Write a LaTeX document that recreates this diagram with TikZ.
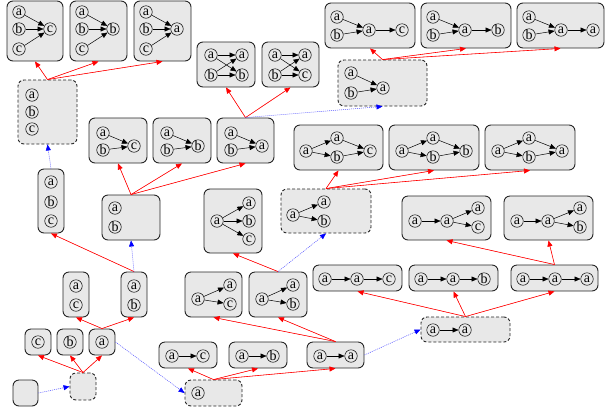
\documentclass[tikz,border=0pt]{standalone}
\usepackage{fontspec}
\setmainfont{Liberation Serif}
\usetikzlibrary{arrows.meta,fit}
\tikzset{
  box/.style={draw=black!85, line width=0.9pt, fill=black!9, rounded corners=6pt, inner sep=0pt},
  dbox/.style={box, dash pattern=on 3pt off 2pt},
  v/.style={circle, draw, line width=0.5pt, inner sep=0pt, minimum size=12.5pt, font=\fontsize{14}{14}\selectfont},
  e/.style={line width=0.5pt, -{Triangle[length=6pt,width=5pt]}},
  redge/.style={draw=red, line width=0.6pt, -{Triangle[length=6pt,width=5pt]}, fill=red},
  bedge/.style={draw=blue!70, line width=0.5pt, dash pattern=on 1pt off 1pt, -{Triangle[length=6pt,width=5pt,fill=blue,color=blue]}}
}
\begin{document}
\begin{tikzpicture}[x=1pt,y=-1pt]
\useasboundingbox (0,0) rectangle (605,416);
% ---------- boxes ----------
\node[box,fit={(7,1)(63,61)}] (B1) {};
\node[box,fit={(70,1)(127,61)}] (B2) {};
\node[box,fit={(134,1)(191,61)}] (B3) {};
\node[box,fit={(325,3)(415,48)}] (B4) {};
\node[box,fit={(421,3)(511,48)}] (B5) {};
\node[box,fit={(517,3)(604,48)}] (B6) {};
\node[dbox,fit={(338,60)(427,106)}] (B7) {};
\node[box,fit={(197,42)(255,87)}] (B8) {};
\node[box,fit={(262,42)(319,87)}] (B9) {};
\node[dbox,fit={(18,80)(77,144)}] (B10) {};
\node[box,fit={(89,118)(147,163)}] (B11) {};
\node[box,fit={(153,118)(211,163)}] (B12) {};
\node[box,fit={(217,118)(274,163)}] (B13) {};
\node[box,fit={(294,125)(383,170)}] (B14) {};
\node[box,fit={(389,125)(479,170)}] (B15) {};
\node[box,fit={(485,125)(575,170)}] (B16) {};
\node[box,fit={(38,169)(64,233)}] (B17) {};
\node[box,fit={(102,195)(160,240)}] (B18) {};
\node[box,fit={(204,189)(262,253)}] (B19) {};
\node[dbox,fit={(281,189)(371,233)}] (B20) {};
\node[box,fit={(402,196)(491,240)}] (B21) {};
\node[box,fit={(504,196)(593,240)}] (B22) {};
\node[box,fit={(63,272)(89,317)}] (B23) {};
\node[box,fit={(121,272)(147,317)}] (B24) {};
\node[box,fit={(185,272)(242,317)}] (B25) {};
\node[box,fit={(249,272)(307,317)}] (B26) {};
\node[box,fit={(313,265)(402,291)}] (B27) {};
\node[box,fit={(409,265)(498,291)}] (B28) {};
\node[box,fit={(511,265)(598,291)}] (B29) {};
\node[box,fit={(25,329)(51,355)}] (B30) {};
\node[box,fit={(57,329)(83,355)}] (B31) {};
\node[box,fit={(89,329)(115,355)}] (B32) {};
\node[box,fit={(159,342)(217,368)}] (B33) {};
\node[box,fit={(229,342)(287,368)}] (B34) {};
\node[box,fit={(307,342)(364,368)}] (B35) {};
\node[dbox,fit={(421,317)(510,342)}] (B36) {};
\node[box,fit={(13,380)(38,406)}] (B37) {};
\node[dbox,fit={(70,373)(96,400)}] (B38) {};
\node[dbox,fit={(185,380)(242,406)}] (B39) {};
% ---------- inner graphs ----------
% B1
\node[v] (n1a) at (19,12) {a}; \node[v] (n1b) at (19,29) {b}; \node[v] (n1c) at (19,49) {c}; \node[v] (n1t) at (50,29) {c};
\draw[e] (n1a) -- (n1t); \draw[e] (n1b) -- (n1t); \draw[e] (n1c) -- (n1t);
% B2
\node[v] (n2a) at (82,12) {a}; \node[v] (n2b) at (82,29) {b}; \node[v] (n2c) at (82,49) {c}; \node[v] (n2t) at (113,29) {b};
\draw[e] (n2a) -- (n2t); \draw[e] (n2b) -- (n2t); \draw[e] (n2c) -- (n2t);
% B3
\node[v] (n3a) at (146,12) {a}; \node[v] (n3b) at (146,29) {b}; \node[v] (n3c) at (146,49) {c}; \node[v] (n3t) at (177,29) {a};
\draw[e] (n3a) -- (n3t); \draw[e] (n3b) -- (n3t); \draw[e] (n3c) -- (n3t);
% B4
\node[v] (n4a) at (337,17) {a}; \node[v] (n4b) at (337,35) {b}; \node[v] (n4m) at (369,30) {a}; \node[v] (n4t) at (402,30) {c};
\draw[e] (n4a) -- (n4m); \draw[e] (n4b) -- (n4m); \draw[e] (n4m) -- (n4t);
% B5
\node[v] (n5a) at (433,17) {a}; \node[v] (n5b) at (433,35) {b}; \node[v] (n5m) at (465,30) {a}; \node[v] (n5t) at (498,30) {b};
\draw[e] (n5a) -- (n5m); \draw[e] (n5b) -- (n5m); \draw[e] (n5m) -- (n5t);
% B6
\node[v] (n6a) at (529,17) {a}; \node[v] (n6b) at (529,35) {b}; \node[v] (n6m) at (561,30) {a}; \node[v] (n6t) at (593,30) {a};
\draw[e] (n6a) -- (n6m); \draw[e] (n6b) -- (n6m); \draw[e] (n6m) -- (n6t);
% B7
\node[v] (n7a) at (351,73) {a}; \node[v] (n7b) at (351,93) {b}; \node[v] (n7t) at (383,88) {a};
\draw[e] (n7a) -- (n7t); \draw[e] (n7b) -- (n7t);
% B8
\node[v] (n8a) at (211,55) {a}; \node[v] (n8b) at (211,75) {b}; \node[v] (n8c) at (242,55) {a}; \node[v] (n8d) at (242,75) {b};
\draw[e] (n8a) -- (n8c); \draw[e] (n8a) -- (n8d); \draw[e] (n8b) -- (n8c); \draw[e] (n8b) -- (n8d);
% B9
\node[v] (n9a) at (275,55) {a}; \node[v] (n9b) at (275,75) {b}; \node[v] (n9c) at (305,55) {a}; \node[v] (n9d) at (305,75) {c};
\draw[e] (n9a) -- (n9c); \draw[e] (n9a) -- (n9d); \draw[e] (n9b) -- (n9c); \draw[e] (n9b) -- (n9d);
% B10
\node[v] (n10a) at (32,95) {a}; \node[v] (n10b) at (32,112) {b}; \node[v] (n10c) at (32,129) {c};
% B11
\node[v] (n11a) at (103,133) {a}; \node[v] (n11b) at (103,150) {b}; \node[v] (n11t) at (134,146) {c};
\draw[e] (n11a) -- (n11t); \draw[e] (n11b) -- (n11t);
% B12
\node[v] (n12a) at (167,133) {a}; \node[v] (n12b) at (167,150) {b}; \node[v] (n12t) at (198,146) {b};
\draw[e] (n12a) -- (n12t); \draw[e] (n12b) -- (n12t);
% B13
\node[v] (n13a) at (231,133) {a}; \node[v] (n13b) at (231,150) {b}; \node[v] (n13t) at (262,146) {a};
\draw[e] (n13a) -- (n13t); \draw[e] (n13b) -- (n13t);
% B14
\node[v] (n14s) at (306,151) {a}; \node[v] (n14a) at (337,138) {a}; \node[v] (n14b) at (337,157) {b}; \node[v] (n14t) at (370,151) {c};
\draw[e] (n14s) -- (n14a); \draw[e] (n14s) -- (n14b); \draw[e] (n14a) -- (n14t); \draw[e] (n14b) -- (n14t);
% B15
\node[v] (n15s) at (402,151) {a}; \node[v] (n15a) at (433,138) {a}; \node[v] (n15b) at (433,157) {b}; \node[v] (n15t) at (466,151) {b};
\draw[e] (n15s) -- (n15a); \draw[e] (n15s) -- (n15b); \draw[e] (n15a) -- (n15t); \draw[e] (n15b) -- (n15t);
% B16
\node[v] (n16s) at (498,151) {a}; \node[v] (n16a) at (529,138) {a}; \node[v] (n16b) at (529,157) {b}; \node[v] (n16t) at (562,151) {a};
\draw[e] (n16s) -- (n16a); \draw[e] (n16s) -- (n16b); \draw[e] (n16a) -- (n16t); \draw[e] (n16b) -- (n16t);
% B17
\node[v] (n17a) at (51,182) {a}; \node[v] (n17b) at (51,202) {b}; \node[v] (n17c) at (51,221) {c};
% B18
\node[v] (n18a) at (115,208) {a}; \node[v] (n18b) at (115,227) {b};
% B19
\node[v] (n19s) at (217,221) {a}; \node[v] (n19a) at (249,203) {a}; \node[v] (n19b) at (249,221) {b}; \node[v] (n19c) at (249,239) {c};
\draw[e] (n19s) -- (n19a); \draw[e] (n19s) -- (n19b); \draw[e] (n19s) -- (n19c);
% B20
\node[v] (n20s) at (293,215) {a}; \node[v] (n20a) at (324,202) {a}; \node[v] (n20b) at (324,221) {b};
\draw[e] (n20s) -- (n20a); \draw[e] (n20s) -- (n20b);
% B21
\node[v] (n21s) at (415,221) {a}; \node[v] (n21m) at (447,221) {a}; \node[v] (n21a) at (478,208) {a}; \node[v] (n21c) at (478,227) {c};
\draw[e] (n21s) -- (n21m); \draw[e] (n21m) -- (n21a); \draw[e] (n21m) -- (n21c);
% B22
\node[v] (n22s) at (517,221) {a}; \node[v] (n22m) at (548,221) {a}; \node[v] (n22a) at (580,208) {a}; \node[v] (n22b) at (580,227) {b};
\draw[e] (n22s) -- (n22m); \draw[e] (n22m) -- (n22a); \draw[e] (n22m) -- (n22b);
% B23, B24
\node[v] (n23a) at (76,286) {a}; \node[v] (n23c) at (76,305) {c};
\node[v] (n24a) at (134,286) {a}; \node[v] (n24b) at (134,305) {b};
% B25
\node[v] (n25s) at (198,299) {a}; \node[v] (n25a) at (230,285) {a}; \node[v] (n25c) at (230,304) {c};
\draw[e] (n25s) -- (n25a); \draw[e] (n25s) -- (n25c);
% B26
\node[v] (n26s) at (262,299) {a}; \node[v] (n26a) at (293,285) {a}; \node[v] (n26b) at (293,304) {b};
\draw[e] (n26s) -- (n26a); \draw[e] (n26s) -- (n26b);
% B27
\node[v] (n27a) at (325,279) {a}; \node[v] (n27b) at (357,279) {a}; \node[v] (n27c) at (389,279) {c};
\draw[e] (n27a) -- (n27b); \draw[e] (n27b) -- (n27c);
% B28
\node[v] (n28a) at (421,279) {a}; \node[v] (n28b) at (453,279) {a}; \node[v] (n28c) at (484,279) {b};
\draw[e] (n28a) -- (n28b); \draw[e] (n28b) -- (n28c);
% B29
\node[v] (n29a) at (523,279) {a}; \node[v] (n29b) at (555,279) {a}; \node[v] (n29c) at (587,279) {a};
\draw[e] (n29a) -- (n29b); \draw[e] (n29b) -- (n29c);
% B30-B32
\node[v] (n30) at (38,342) {c};
\node[v] (n31) at (70,342) {b};
\node[v] (n32) at (102,342) {a};
% B33
\node[v] (n33a) at (172,356) {a}; \node[v] (n33c) at (203,356) {c};
\draw[e] (n33a) -- (n33c);
% B34
\node[v] (n34a) at (242,356) {a}; \node[v] (n34b) at (273,356) {b};
\draw[e] (n34a) -- (n34b);
% B35
\node[v] (n35a) at (320,356) {a}; \node[v] (n35b) at (351,356) {a};
\draw[e] (n35a) -- (n35b);
% B36
\node[v] (n36a) at (433,330) {a}; \node[v] (n36b) at (465,330) {a};
\draw[e] (n36a) -- (n36b);
% B39
\node[v] (n39) at (198,393) {a};
% ---------- red connectors ----------
\foreach \s/\t in {B10/B1,B10/B2,B10/B3,
                   B7/B4,B7/B5,B7/B6,
                   B13/B8,B13/B9,
                   B18/B11,B18/B12,B18/B13,
                   B20/B14,B20/B15,B20/B16,
                   B24/B17,
                   B26/B19,
                   B29/B21,B29/B22,
                   B32/B23,B32/B24,
                   B35/B25,B35/B26,
                   B36/B27,B36/B28,B36/B29,
                   B38/B30,B38/B31,B38/B32,
                   B39/B33,B39/B34,B39/B35}
  {\draw[redge] (\s.north) -- (\t.south);}
% ---------- blue connectors ----------
\draw[bedge] (B37.east) -- (B38.west);
\draw[bedge] (B32.east) -- (B39.west);
\draw[bedge] (B35.east) -- (B36.west);
\draw[bedge] (B24.north) -- (B18.south);
\draw[bedge] (B26.north) -- (B20.south);
\draw[bedge] (B17.north) -- (B10.south);
\draw[bedge] (B13.north) -- (B7.south);
\end{tikzpicture}
\end{document}
